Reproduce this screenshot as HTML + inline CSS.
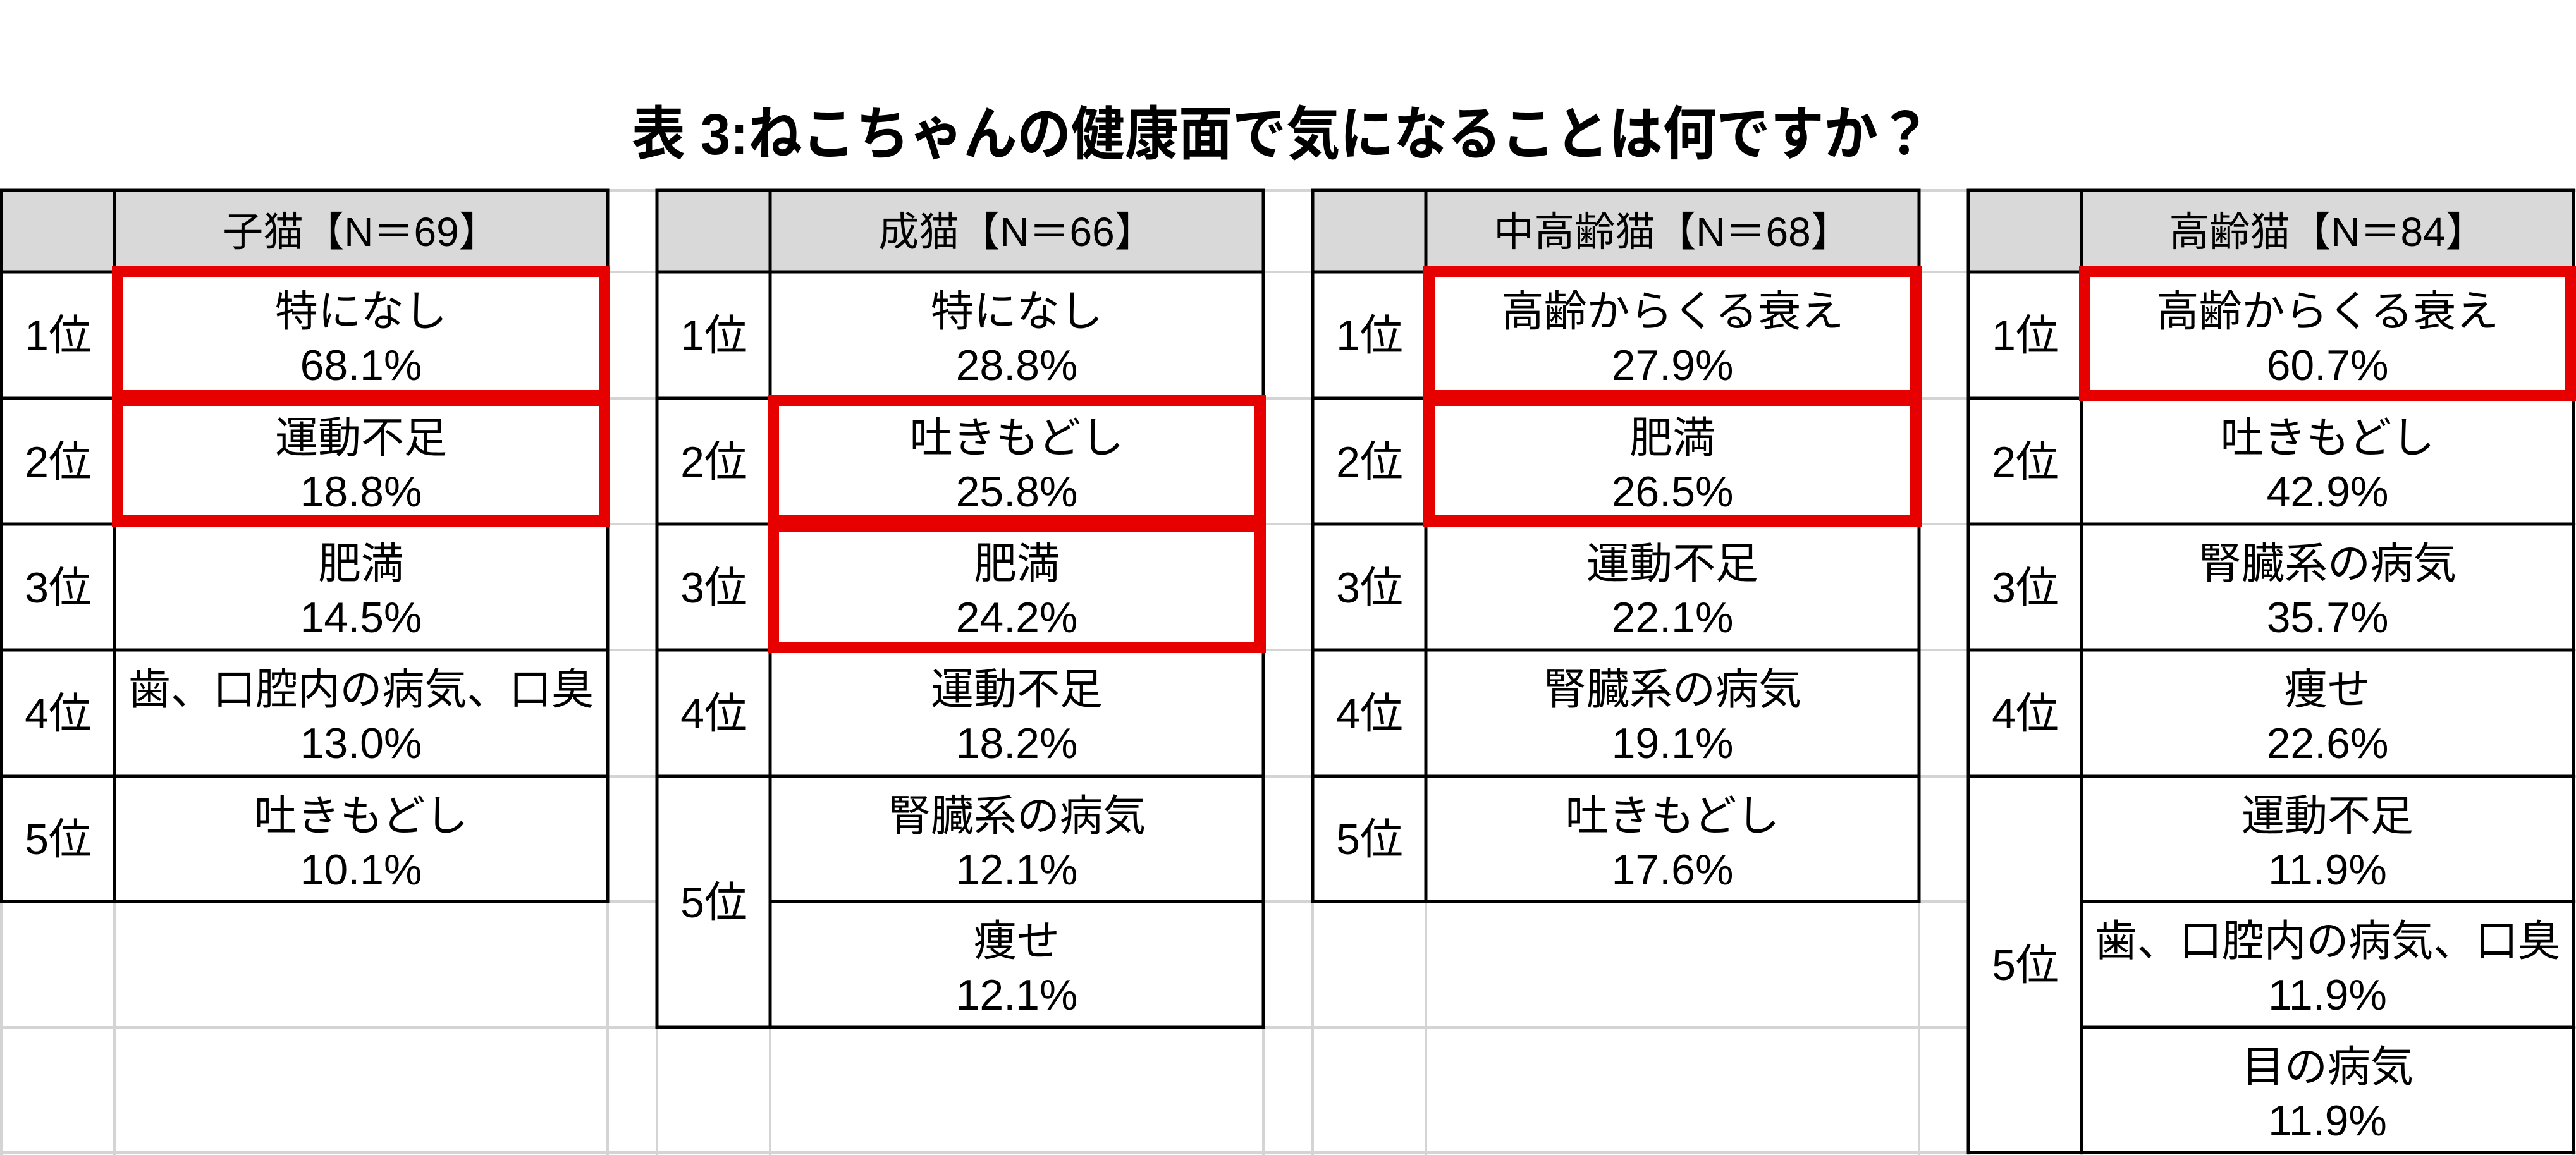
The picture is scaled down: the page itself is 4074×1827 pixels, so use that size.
<!DOCTYPE html>
<html><head><meta charset="utf-8"><style>
html,body{margin:0;padding:0;background:#fff;}
svg{display:block;}
text{font-family:"Liberation Sans Narrow","Liberation Sans","Noto Sans CJK JP",sans-serif;fill:#000;}
.t{font-size:68px;text-anchor:middle;}
.h{font-size:64px;text-anchor:middle;}
.title{font-size:92px;font-weight:bold;text-anchor:middle;}
</style></head><body>
<svg width="4074" height="1827" viewBox="0 0 4074 1827" xmlns="http://www.w3.org/2000/svg">
<g stroke="#d4d4d4" stroke-width="4">
<line x1="0" y1="301" x2="4074" y2="301"/>
<line x1="0" y1="430" x2="4074" y2="430"/>
<line x1="0" y1="630" x2="4074" y2="630"/>
<line x1="0" y1="829" x2="4074" y2="829"/>
<line x1="0" y1="1028" x2="4074" y2="1028"/>
<line x1="0" y1="1228" x2="4074" y2="1228"/>
<line x1="0" y1="1426" x2="4074" y2="1426"/>
<line x1="0" y1="1625" x2="4074" y2="1625"/>
<line x1="0" y1="1823" x2="4074" y2="1823"/>
<line x1="2" y1="301" x2="2" y2="1827"/>
<line x1="181" y1="301" x2="181" y2="1827"/>
<line x1="961" y1="301" x2="961" y2="1827"/>
<line x1="1039" y1="301" x2="1039" y2="1827"/>
<line x1="1218" y1="301" x2="1218" y2="1827"/>
<line x1="1998" y1="301" x2="1998" y2="1827"/>
<line x1="2076" y1="301" x2="2076" y2="1827"/>
<line x1="2255" y1="301" x2="2255" y2="1827"/>
<line x1="3035" y1="301" x2="3035" y2="1827"/>
<line x1="3113" y1="301" x2="3113" y2="1827"/>
<line x1="3292" y1="301" x2="3292" y2="1827"/>
<line x1="4070" y1="301" x2="4070" y2="1827"/>
</g>

<g fill="#fff">
<rect x="2" y="301" width="959" height="1125"/>
<rect x="1039" y="301" width="959" height="1324"/>
<rect x="2076" y="301" width="959" height="1125"/>
<rect x="3113" y="301" width="957" height="1522"/>
</g>
<g fill="#d9d9d9">
<rect x="2" y="301" width="959" height="129"/>
<rect x="1039" y="301" width="959" height="129"/>
<rect x="2076" y="301" width="959" height="129"/>
<rect x="3113" y="301" width="957" height="129"/>
</g>

<g stroke="#000" stroke-width="5" fill="none">
<rect x="2" y="301" width="959" height="1125"/>
<line x1="181" y1="301" x2="181" y2="1426"/>
<line x1="2" y1="430" x2="961" y2="430"/>
<line x1="2" y1="630" x2="961" y2="630"/>
<line x1="2" y1="829" x2="961" y2="829"/>
<line x1="2" y1="1028" x2="961" y2="1028"/>
<line x1="2" y1="1228" x2="961" y2="1228"/>
<rect x="1039" y="301" width="959" height="1324"/>
<line x1="1218" y1="301" x2="1218" y2="1625"/>
<line x1="1039" y1="430" x2="1998" y2="430"/>
<line x1="1039" y1="630" x2="1998" y2="630"/>
<line x1="1039" y1="829" x2="1998" y2="829"/>
<line x1="1039" y1="1028" x2="1998" y2="1028"/>
<line x1="1039" y1="1228" x2="1998" y2="1228"/>
<line x1="1218" y1="1426" x2="1998" y2="1426"/>
<rect x="2076" y="301" width="959" height="1125"/>
<line x1="2255" y1="301" x2="2255" y2="1426"/>
<line x1="2076" y1="430" x2="3035" y2="430"/>
<line x1="2076" y1="630" x2="3035" y2="630"/>
<line x1="2076" y1="829" x2="3035" y2="829"/>
<line x1="2076" y1="1028" x2="3035" y2="1028"/>
<line x1="2076" y1="1228" x2="3035" y2="1228"/>
<rect x="3113" y="301" width="957" height="1522"/>
<line x1="3292" y1="301" x2="3292" y2="1823"/>
<line x1="3113" y1="430" x2="4070" y2="430"/>
<line x1="3113" y1="630" x2="4070" y2="630"/>
<line x1="3113" y1="829" x2="4070" y2="829"/>
<line x1="3113" y1="1028" x2="4070" y2="1028"/>
<line x1="3113" y1="1228" x2="4070" y2="1228"/>
<line x1="3292" y1="1426" x2="4070" y2="1426"/>
<line x1="3292" y1="1625" x2="4070" y2="1625"/>
</g>

<g stroke="#e60000" stroke-width="18" fill="none">
<rect x="186" y="429" width="770" height="197"/>
<rect x="186" y="634" width="770" height="190"/>
<rect x="1223" y="634" width="770" height="190"/>
<rect x="1223" y="833" width="770" height="191"/>
<rect x="2260" y="429" width="770" height="197"/>
<rect x="2260" y="634" width="770" height="190"/>
<rect x="3297" y="429" width="768" height="197"/>
</g>

<text class="title" x="2027" y="244" textLength="2056" lengthAdjust="spacingAndGlyphs">表 3:ねこちゃんの健康面で気になることは何ですか？</text>

<text class="h" x="571" y="389">子猫【N＝69】</text>
<text class="h" x="1608" y="389">成猫【N＝66】</text>
<text class="h" x="2645" y="389">中高齢猫【N＝68】</text>
<text class="h" x="3681" y="389">高齢猫【N＝84】</text>

<text class="t" x="92" y="554">1位</text>
<text class="t" x="92" y="754">2位</text>
<text class="t" x="92" y="953">3位</text>
<text class="t" x="92" y="1152">4位</text>
<text class="t" x="92" y="1351">5位</text>
<text class="t" x="1129" y="554">1位</text>
<text class="t" x="1129" y="754">2位</text>
<text class="t" x="1129" y="953">3位</text>
<text class="t" x="1129" y="1152">4位</text>
<text class="t" x="1129" y="1451">5位</text>
<text class="t" x="2166" y="554">1位</text>
<text class="t" x="2166" y="754">2位</text>
<text class="t" x="2166" y="953">3位</text>
<text class="t" x="2166" y="1152">4位</text>
<text class="t" x="2166" y="1351">5位</text>
<text class="t" x="3203" y="554">1位</text>
<text class="t" x="3203" y="754">2位</text>
<text class="t" x="3203" y="953">3位</text>
<text class="t" x="3203" y="1152">4位</text>
<text class="t" x="3203" y="1550">5位</text>

<text class="t" x="571" y="516">特になし</text><text class="t" x="571" y="601">68.1%</text>
<text class="t" x="571" y="716">運動不足</text><text class="t" x="571" y="801">18.8%</text>
<text class="t" x="571" y="915">肥満</text><text class="t" x="571" y="1000">14.5%</text>
<text class="t" x="571" y="1114" textLength="736" lengthAdjust="spacingAndGlyphs">歯、口腔内の病気、口臭</text><text class="t" x="571" y="1199">13.0%</text>
<text class="t" x="571" y="1314">吐きもどし</text><text class="t" x="571" y="1399">10.1%</text>

<text class="t" x="1608" y="516">特になし</text><text class="t" x="1608" y="601">28.8%</text>
<text class="t" x="1608" y="716">吐きもどし</text><text class="t" x="1608" y="801">25.8%</text>
<text class="t" x="1608" y="915">肥満</text><text class="t" x="1608" y="1000">24.2%</text>
<text class="t" x="1608" y="1114">運動不足</text><text class="t" x="1608" y="1199">18.2%</text>
<text class="t" x="1608" y="1314">腎臓系の病気</text><text class="t" x="1608" y="1399">12.1%</text>
<text class="t" x="1608" y="1512">痩せ</text><text class="t" x="1608" y="1597">12.1%</text>

<text class="t" x="2645" y="516">高齢からくる衰え</text><text class="t" x="2645" y="601">27.9%</text>
<text class="t" x="2645" y="716">肥満</text><text class="t" x="2645" y="801">26.5%</text>
<text class="t" x="2645" y="915">運動不足</text><text class="t" x="2645" y="1000">22.1%</text>
<text class="t" x="2645" y="1114">腎臓系の病気</text><text class="t" x="2645" y="1199">19.1%</text>
<text class="t" x="2645" y="1314">吐きもどし</text><text class="t" x="2645" y="1399">17.6%</text>

<text class="t" x="3681" y="516">高齢からくる衰え</text><text class="t" x="3681" y="601">60.7%</text>
<text class="t" x="3681" y="716">吐きもどし</text><text class="t" x="3681" y="801">42.9%</text>
<text class="t" x="3681" y="915">腎臓系の病気</text><text class="t" x="3681" y="1000">35.7%</text>
<text class="t" x="3681" y="1114">痩せ</text><text class="t" x="3681" y="1199">22.6%</text>
<text class="t" x="3681" y="1314">運動不足</text><text class="t" x="3681" y="1399">11.9%</text>
<text class="t" x="3681" y="1512" textLength="736" lengthAdjust="spacingAndGlyphs">歯、口腔内の病気、口臭</text><text class="t" x="3681" y="1597">11.9%</text>
<text class="t" x="3681" y="1711">目の病気</text><text class="t" x="3681" y="1796">11.9%</text>
</svg>
</body></html>
